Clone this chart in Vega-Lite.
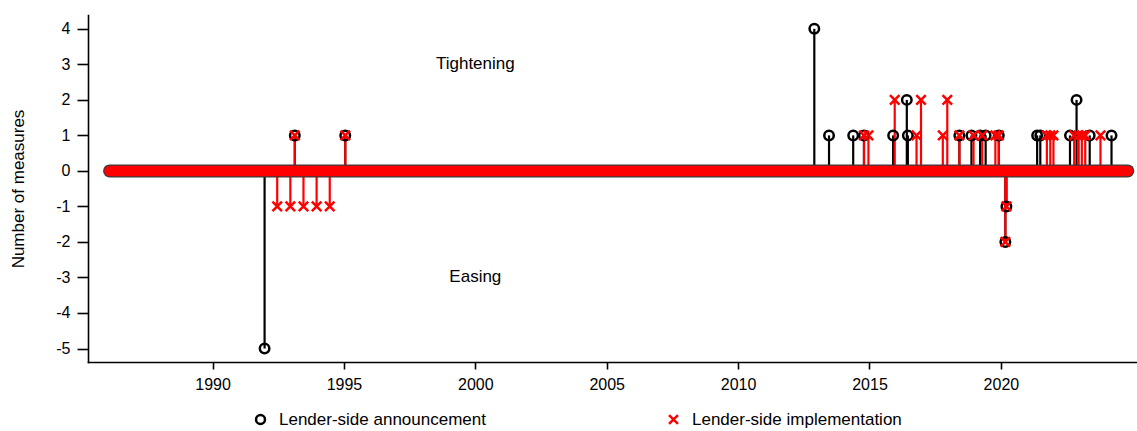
{
  "$schema": "https://vega.github.io/schema/vega-lite/v6.json",
  "width": 1049,
  "height": 347,
  "autosize": "none",
  "padding": {"left": 88, "top": 15, "right": 0, "bottom": 69},
  "background": "white",
  "config": {
    "font": "Liberation Sans",
    "view": {"stroke": null},
    "axis": {
      "grid": false,
      "domainColor": "black",
      "tickColor": "black",
      "labelColor": "black",
      "titleColor": "black",
      "domainWidth": 1.6,
      "tickWidth": 1.6,
      "domainCap": "square",
      "labelFontSize": 16,
      "labelFont": "Liberation Sans",
      "labelOverlap": false
    }
  },
  "datasets": {
    "events": [
      {"year": 1991.98, "value": -5, "series": "Lender-side announcement"},
      {"year": 1993.13, "value": 1, "series": "Lender-side announcement"},
      {"year": 1995.05, "value": 1, "series": "Lender-side announcement"},
      {"year": 2012.9, "value": 4, "series": "Lender-side announcement"},
      {"year": 2013.46, "value": 1, "series": "Lender-side announcement"},
      {"year": 2014.38, "value": 1, "series": "Lender-side announcement"},
      {"year": 2014.79, "value": 1, "series": "Lender-side announcement"},
      {"year": 2015.9, "value": 1, "series": "Lender-side announcement"},
      {"year": 2016.42, "value": 2, "series": "Lender-side announcement"},
      {"year": 2016.46, "value": 1, "series": "Lender-side announcement"},
      {"year": 2018.42, "value": 1, "series": "Lender-side announcement"},
      {"year": 2018.88, "value": 1, "series": "Lender-side announcement"},
      {"year": 2019.21, "value": 1, "series": "Lender-side announcement"},
      {"year": 2019.42, "value": 1, "series": "Lender-side announcement"},
      {"year": 2019.92, "value": 1, "series": "Lender-side announcement"},
      {"year": 2020.17, "value": -2, "series": "Lender-side announcement"},
      {"year": 2020.21, "value": -1, "series": "Lender-side announcement"},
      {"year": 2021.38, "value": 1, "series": "Lender-side announcement"},
      {"year": 2021.5, "value": 1, "series": "Lender-side announcement"},
      {"year": 2022.63, "value": 1, "series": "Lender-side announcement"},
      {"year": 2022.88, "value": 2, "series": "Lender-side announcement"},
      {"year": 2023.38, "value": 1, "series": "Lender-side announcement"},
      {"year": 2024.21, "value": 1, "series": "Lender-side announcement"},
      {"year": 1992.46, "value": -1, "series": "Lender-side implementation"},
      {"year": 1992.96, "value": -1, "series": "Lender-side implementation"},
      {"year": 1993.46, "value": -1, "series": "Lender-side implementation"},
      {"year": 1993.96, "value": -1, "series": "Lender-side implementation"},
      {"year": 1994.46, "value": -1, "series": "Lender-side implementation"},
      {"year": 1993.13, "value": 1, "series": "Lender-side implementation"},
      {"year": 1995.05, "value": 1, "series": "Lender-side implementation"},
      {"year": 2014.79, "value": 1, "series": "Lender-side implementation"},
      {"year": 2014.96, "value": 1, "series": "Lender-side implementation"},
      {"year": 2015.96, "value": 2, "series": "Lender-side implementation"},
      {"year": 2016.79, "value": 1, "series": "Lender-side implementation"},
      {"year": 2016.96, "value": 2, "series": "Lender-side implementation"},
      {"year": 2017.79, "value": 1, "series": "Lender-side implementation"},
      {"year": 2017.96, "value": 2, "series": "Lender-side implementation"},
      {"year": 2018.42, "value": 1, "series": "Lender-side implementation"},
      {"year": 2018.96, "value": 1, "series": "Lender-side implementation"},
      {"year": 2019.29, "value": 1, "series": "Lender-side implementation"},
      {"year": 2019.79, "value": 1, "series": "Lender-side implementation"},
      {"year": 2019.92, "value": 1, "series": "Lender-side implementation"},
      {"year": 2020.17, "value": -2, "series": "Lender-side implementation"},
      {"year": 2020.21, "value": -1, "series": "Lender-side implementation"},
      {"year": 2021.75, "value": 1, "series": "Lender-side implementation"},
      {"year": 2021.88, "value": 1, "series": "Lender-side implementation"},
      {"year": 2022.0, "value": 1, "series": "Lender-side implementation"},
      {"year": 2022.79, "value": 1, "series": "Lender-side implementation"},
      {"year": 2022.96, "value": 1, "series": "Lender-side implementation"},
      {"year": 2023.08, "value": 1, "series": "Lender-side implementation"},
      {"year": 2023.21, "value": 1, "series": "Lender-side implementation"},
      {"year": 2023.79, "value": 1, "series": "Lender-side implementation"}
    ],
    "band": [{"start": 1986.08, "end": 2024.83}],
    "notes": [
      {"year": 2000, "value": 3, "label": "Tightening"},
      {"year": 2000, "value": -3, "label": "Easing"}
    ]
  },
  "resolve": {"legend": {"color": "independent", "shape": "independent"}},
  "layer": [
    {
      "data": {"name": "events"},
      "mark": {"type": "rule", "strokeWidth": 2.2},
      "encoding": {
        "x": {
          "field": "year",
          "type": "quantitative",
          "scale": {"domain": [1985.26, 2025.18], "nice": false, "zero": false},
          "axis": {
            "values": [1990, 1995, 2000, 2005, 2010, 2015, 2020],
            "tickCount": 30,
            "format": "d",
            "title": null,
            "tickSize": 7,
            "labelPadding": 7,
            "labelFontSize": 16
          }
        },
        "y": {
          "field": "value",
          "type": "quantitative",
          "scale": {"domain": [-5.38, 4.39], "nice": false, "zero": false},
          "axis": {
            "values": [-5, -4, -3, -2, -1, 0, 1, 2, 3, 4],
            "tickCount": 20,
            "labelExpr": "toString(datum.value)",
            "labelOverlap": false,
            "labelFontSize": 16,
            "title": "Number of measures",
            "titleFontSize": 17,
            "titleFontWeight": "normal",
            "titleFont": "Liberation Sans",
            "titleX": -70,
            "titleY": 173.5,
            "titleAngle": 270,
            "titleAlign": "center",
            "titleBaseline": "middle",
            "tickSize": 11,
            "labelPadding": 7
          }
        },
        "y2": {"datum": 0},
        "color": {
          "field": "series",
          "type": "nominal",
          "scale": {"domain": ["Lender-side announcement", "Lender-side implementation"], "range": ["#000000", "#ff0000"]},
          "legend": null
        }
      }
    },
    {
      "data": {"name": "band"},
      "mark": {"type": "rule", "strokeWidth": 13, "strokeCap": "round", "color": "#3a3a3a"},
      "encoding": {
        "x": {"field": "start", "type": "quantitative"},
        "x2": {"field": "end"},
        "y": {"datum": 0}
      }
    },
    {
      "data": {"name": "band"},
      "mark": {"type": "rule", "strokeWidth": 10.5, "strokeCap": "round", "color": "#ff0000"},
      "encoding": {
        "x": {"field": "start", "type": "quantitative"},
        "x2": {"field": "end"},
        "y": {"datum": 0}
      }
    },
    {
      "data": {"name": "events"},
      "mark": {"type": "point", "filled": false, "strokeWidth": 2.5, "size": 90, "opacity": 1},
      "encoding": {
        "x": {"field": "year", "type": "quantitative"},
        "y": {"field": "value", "type": "quantitative"},
        "color": {
          "field": "series",
          "type": "nominal",
          "legend": {
            "title": null,
            "orient": "none",
            "legendX": 164,
            "legendY": 396,
            "direction": "horizontal",
            "labelFontSize": 17,
            "labelFont": "Liberation Sans",
            "labelColor": "black",
            "labelLimit": 0,
            "labelOffset": 10,
            "columnPadding": 178,
            "symbolStrokeWidth": 2.5,
            "symbolSize": 80
          }
        },
        "shape": {
          "field": "series",
          "type": "nominal",
          "scale": {"domain": ["Lender-side announcement", "Lender-side implementation"], "range": ["circle", "M-1,-1L1,1M1,-1L-1,1"]},
          "legend": {
            "title": null,
            "orient": "none",
            "legendX": 164,
            "legendY": 396,
            "direction": "horizontal",
            "labelFontSize": 17,
            "labelFont": "Liberation Sans",
            "labelColor": "black",
            "labelLimit": 0,
            "labelOffset": 10,
            "columnPadding": 178,
            "symbolStrokeWidth": 2.5,
            "symbolSize": 80
          }
        }
      }
    },
    {
      "data": {"name": "notes"},
      "mark": {"type": "text", "fontSize": 17, "font": "Liberation Sans", "align": "center", "baseline": "middle", "color": "black"},
      "encoding": {
        "x": {"field": "year", "type": "quantitative"},
        "y": {"field": "value", "type": "quantitative"},
        "text": {"field": "label"}
      }
    }
  ]
}
